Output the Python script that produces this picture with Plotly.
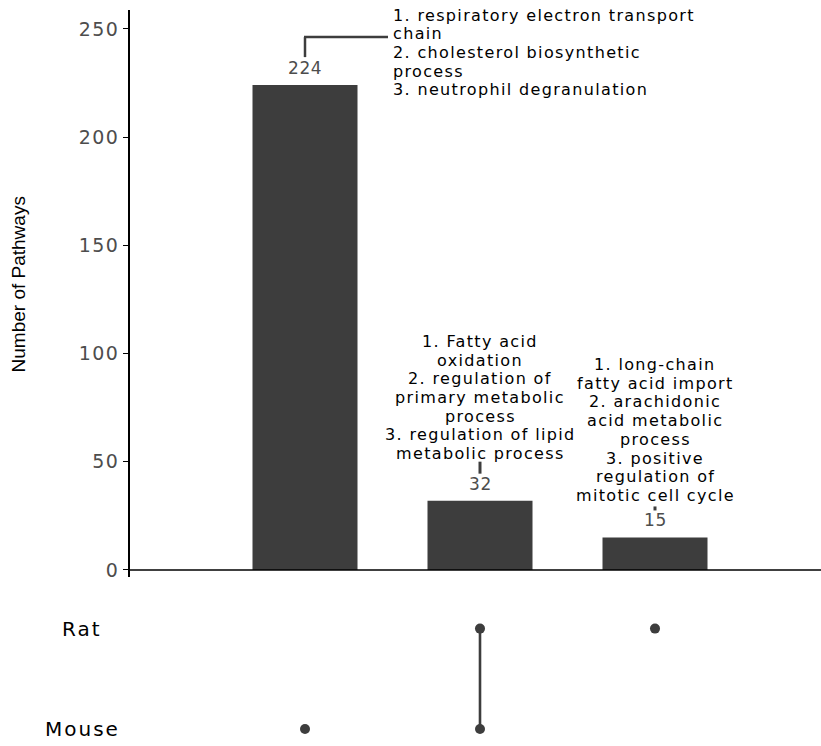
import plotly.graph_objects as go

# ---------------- data ----------------
intersections = ["Mouse only", "Mouse & Rat", "Rat only"]
pathway_counts = [224, 32, 15]
species = ["Mouse", "Rat"]
# membership[i] = list of species present in intersection i
membership = [["Mouse"], ["Mouse", "Rat"], ["Rat"]]
top_terms = [
    ["1. respiratory electron transport", "chain", "2. cholesterol biosynthetic",
     "process", "3. neutrophil degranulation"],
    ["1. Fatty acid", "oxidation", "2. regulation of", "primary metabolic",
     "process", "3. regulation of lipid", "metabolic process"],
    ["1. long-chain", "fatty acid import", "2. arachidonic", "acid metabolic",
     "process", "3. positive", "regulation of", "mitotic cell cycle"],
]
y_tick_values = [0, 50, 100, 150, 200, 250]
y_title = "Number of Pathways"

# ---------------- style ----------------
W, H = 821, 746
DARK = "#3d3d3d"
GRAY = "#4d4d4d"
FONT = "DejaVu Sans"
LINE_H = 18.7


def spaced(text, ls):
    return f'<span style="letter-spacing:{ls}px">{text}</span>'


xpos = list(range(len(intersections)))
sp_y = {"Mouse": 0, "Rat": 1}

fig = go.Figure()

fig.add_trace(go.Bar(
    x=xpos, y=pathway_counts, width=0.6,
    marker=dict(color=DARK, line=dict(width=0)),
    hoverinfo="skip", showlegend=False,
    xaxis="x", yaxis="y",
))

# matrix: dots + connectors
for i, members in enumerate(membership):
    ys = [sp_y[s] for s in members]
    if len(ys) > 1:
        fig.add_trace(go.Scatter(
            x=[xpos[i]] * len(ys), y=sorted(ys), mode="lines",
            line=dict(color=DARK, width=2.6),
            hoverinfo="skip", showlegend=False, xaxis="x", yaxis="y2",
        ))
    fig.add_trace(go.Scatter(
        x=[xpos[i]] * len(ys), y=ys, mode="markers",
        marker=dict(color=DARK, size=10),
        hoverinfo="skip", showlegend=False, xaxis="x", yaxis="y2",
    ))

annotations = []
shapes = []

# value labels
for i, v in enumerate(pathway_counts):
    annotations.append(dict(
        x=xpos[i], y=v, xref="x", yref="y", text=spaced(str(v), 0.6), showarrow=False,
        yanchor="middle", xanchor="center", yshift=17,
        font=dict(family=FONT, size=17, color=GRAY),
    ))

BLOCK_FONT = dict(family=FONT, size=16, color="black")
BLOCK_LS = 1.35

# bar 0: left-aligned block to the right with bracket
for j, line in enumerate(top_terms[0]):
    annotations.append(dict(
        x=xpos[0], y=pathway_counts[0], xref="x", yref="y",
        text=spaced(line, BLOCK_LS),
        showarrow=False, xanchor="left", yanchor="middle",
        xshift=86, yshift=70 - j * LINE_H, font=BLOCK_FONT,
    ))
shapes.append(dict(type="line", xref="x", yref="y", xsizemode="pixel",
                   ysizemode="pixel", xanchor=xpos[0], yanchor=pathway_counts[0],
                   x0=0, x1=0, y0=28, y1=48, line=dict(color=DARK, width=2.5)))
shapes.append(dict(type="line", xref="x", yref="y", xsizemode="pixel",
                   ysizemode="pixel", xanchor=xpos[0], yanchor=pathway_counts[0],
                   x0=-1, x1=83, y0=48, y1=48, line=dict(color=DARK, width=2.5)))

block_offset = {1: 47, 2: 42}
tick_span = {1: (27, 39), 2: (27, 31)}
for i in (1, 2):
    lines = top_terms[i]
    n = len(lines)
    for j, line in enumerate(lines):
        annotations.append(dict(
            x=xpos[i], y=pathway_counts[i], xref="x", yref="y",
            text=spaced(line, BLOCK_LS),
            showarrow=False, xanchor="center", yanchor="middle",
            yshift=block_offset[i] + (n - 1 - j) * LINE_H, font=BLOCK_FONT,
        ))
    a, b = tick_span[i]
    shapes.append(dict(type="line", xref="x", yref="y", xsizemode="pixel",
                       ysizemode="pixel", xanchor=xpos[i], yanchor=pathway_counts[i],
                       x0=0, x1=0, y0=a, y1=b, line=dict(color=DARK, width=3)))

# x baseline of the bar chart
shapes.append(dict(type="line", xref="paper", yref="y", x0=130 / W, x1=1,
                   y0=0, y1=0, line=dict(color="black", width=1.6)))

# species labels
for s in species:
    annotations.append(dict(
        x=82 / W, y=sp_y[s], xref="paper", yref="y2", text=spaced(s, 2),
        showarrow=False, xanchor="center", yanchor="middle",
        font=dict(family=FONT, size=20, color="black"),
    ))

# y-axis title
annotations.append(dict(
    x=18 / W, y=1 - 286 / H, xref="paper", yref="paper", text=y_title,
    showarrow=False, textangle=-90, xanchor="center", yanchor="middle",
    font=dict(family="Liberation Sans", size=19, color="black"),
))

px_per_unit = 544 / 250
fig.update_layout(
    width=W, height=H, margin=dict(l=0, r=0, t=0, b=0),
    paper_bgcolor="white", plot_bgcolor="white",
    xaxis=dict(domain=[130 / W, 1], range=[-1, -1 + (W - 130) / 175],
               showline=False, showgrid=False, zeroline=False,
               showticklabels=False, ticks="", anchor="y"),
    yaxis=dict(domain=[(H - 580) / H, (H - 10) / H],
               range=[-7 / px_per_unit, 250 + 19 / px_per_unit],
               tickvals=y_tick_values,
               ticktext=[spaced(str(t), 1.5) for t in y_tick_values],
               ticks="outside", ticklen=5,
               tickcolor="black", tickwidth=1.2,
               showline=True, linecolor="black", linewidth=1.6,
               showgrid=False, zeroline=False, anchor="x",
               tickfont=dict(family=FONT, size=19, color=GRAY)),
    yaxis2=dict(domain=[0, (H - 600) / H], range=[-13 / 101, 1 + 32 / 101],
                showline=False, showgrid=False, zeroline=False,
                showticklabels=False, ticks="", anchor="x"),
    annotations=annotations, shapes=shapes,
)

fig.write_html("out.html")
